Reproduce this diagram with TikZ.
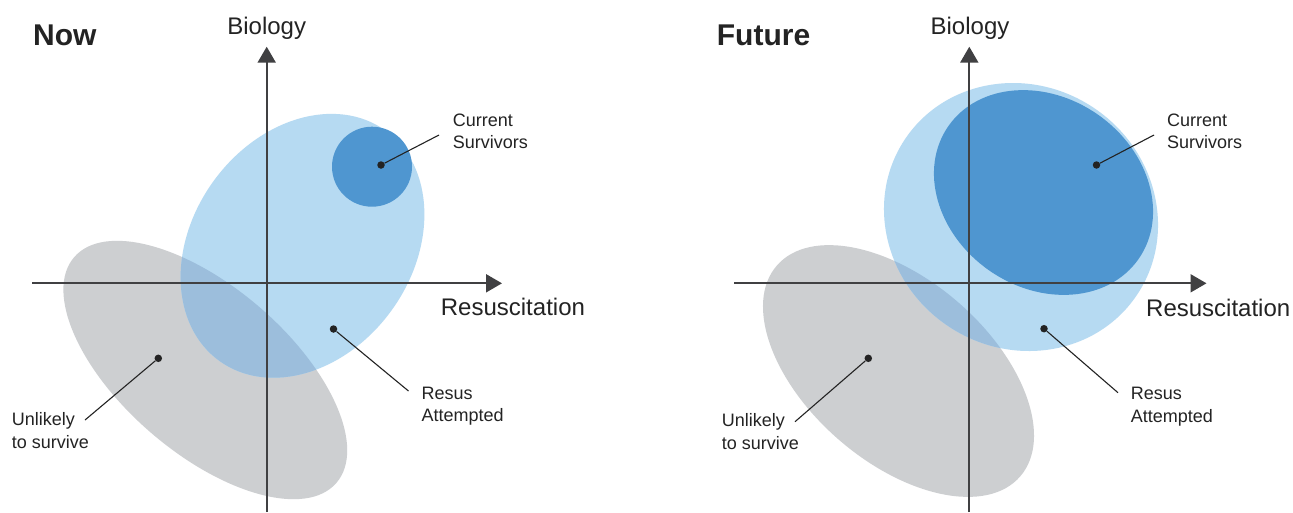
\documentclass[tikz,border=0pt]{standalone}
\usepackage{fontspec}
\setmainfont{Liberation Sans}
\usetikzlibrary{arrows.meta}
\definecolor{lblue}{RGB}{182,218,242}
\definecolor{dblue}{RGB}{79,150,208}
\definecolor{grayc}{RGB}{205,207,209}
\definecolor{overc}{RGB}{156,190,220}
\definecolor{axisc}{RGB}{64,64,66}
\definecolor{textc}{RGB}{35,35,35}
\begin{document}
\begin{tikzpicture}[x=1pt,y=1pt,
  axisline/.style={draw=axisc, line width=2pt, -{Triangle[length=16pt,width=18pt]}},
  leader/.style={draw=textc, line width=1.1pt},
  dotnode/.style={circle, fill=textc, inner sep=0pt, minimum size=7.5pt},
  lab/.style={font=\fontsize{18}{22.7}\selectfont, text=textc, align=left, inner sep=0pt, anchor=north west},
  axlab/.style={font=\fontsize{24}{28}\selectfont, text=textc, inner sep=0pt},
  titlelab/.style={font=\bfseries\fontsize{30}{36}\selectfont, text=textc, inner sep=0pt, anchor=base west}]
\useasboundingbox (0,0) rectangle (1293,-512);
\fill[white] (0,0) rectangle (1293,-512);

% ---------- LEFT PANEL (Now) ----------
\fill[grayc, rotate around={-40.7:(205.3,-370)}] (205.3,-370) ellipse [x radius=173, y radius=83];
\fill[lblue, rotate around={54.2:(302.5,-245.8)}] (302.5,-245.8) ellipse [x radius=142, y radius=110];
\begin{scope}
  \clip[rotate around={-40.7:(205.3,-370)}] (205.3,-370) ellipse [x radius=173, y radius=83];
  \fill[overc, rotate around={54.2:(302.5,-245.8)}] (302.5,-245.8) ellipse [x radius=142, y radius=110];
\end{scope}
\fill[dblue] (372,-166.7) circle [radius=40];

\coordinate (xl1) at (32,-283.3);
\coordinate (xr1) at (502,-283.3);
\coordinate (yb1) at (266.7,-512);
\coordinate (yt1) at (266.7,-46.7);
\draw[axisline] (xl1) -- (xr1);
\draw[axisline] (yb1) -- (yt1);

\node[titlelab] (now) at (33,-45) {Now};
\node[axlab, anchor=base] (bio1) at (266.7,-34.3) {Biology};
\node[axlab, anchor=base west] (res1) at (440.7,-315.7) {Resuscitation};

\node[dotnode] (cs1) at (381,-165) {};
\coordinate (cs1e) at (439,-135);
\draw[leader] (cs1) -- (cs1e);
\node[lab] (cs1t) at (452.6,-113.3) {Current\\Survivors};

\node[dotnode] (ra1) at (333.5,-329) {};
\coordinate (ra1e) at (408.5,-391);
\draw[leader] (ra1) -- (ra1e);
\node[lab] (ra1t) at (421.5,-386.7) {Resus\\Attempted};

\node[dotnode] (un1) at (158.3,-358.3) {};
\coordinate (un1e) at (85,-420);
\draw[leader] (un1) -- (un1e);
\node[lab] (un1t) at (11.7,-412.5) {Unlikely\\to survive};

% ---------- RIGHT PANEL (Future) ----------
\fill[grayc, rotate around={-40.9:(898.5,-371)}] (898.5,-371) ellipse [x radius=161, y radius=91];
\fill[lblue, rotate around={-34.6:(1021,-217)}] (1021,-217) ellipse [x radius=139.7, y radius=131.2];
\begin{scope}
  \clip[rotate around={-40.9:(898.5,-371)}] (898.5,-371) ellipse [x radius=161, y radius=91];
  \fill[overc, rotate around={-34.6:(1021,-217)}] (1021,-217) ellipse [x radius=139.7, y radius=131.2];
\end{scope}
\fill[dblue, rotate around={-35:(1043.5,-192.5)}] (1043.5,-192.5) ellipse [x radius=116, y radius=95];

\coordinate (xl2) at (734.3,-283.3);
\coordinate (xr2) at (1206.5,-283.3);
\coordinate (yb2) at (969.3,-512);
\coordinate (yt2) at (969.3,-46.7);
\draw[axisline] (xl2) -- (xr2);
\draw[axisline] (yb2) -- (yt2);

\node[titlelab] (fut) at (716.7,-45) {Future};
\node[axlab, anchor=base] (bio2) at (970,-34.3) {Biology};
\node[axlab, anchor=base west] (res2) at (1146,-316.7) {Resuscitation};

\node[dotnode] (cs2) at (1096.5,-165) {};
\coordinate (cs2e) at (1154,-135);
\draw[leader] (cs2) -- (cs2e);
\node[lab] (cs2t) at (1167,-113.3) {Current\\Survivors};

\node[dotnode] (ra2) at (1044,-328.7) {};
\coordinate (ra2e) at (1118,-392.7);
\draw[leader] (ra2) -- (ra2e);
\node[lab] (ra2t) at (1130.7,-387.3) {Resus\\Attempted};

\node[dotnode] (un2) at (868.3,-358.3) {};
\coordinate (un2e) at (795,-421.7);
\draw[leader] (un2) -- (un2e);
\node[lab] (un2t) at (721.7,-413.5) {Unlikely\\to survive};
\end{tikzpicture}
\end{document}
